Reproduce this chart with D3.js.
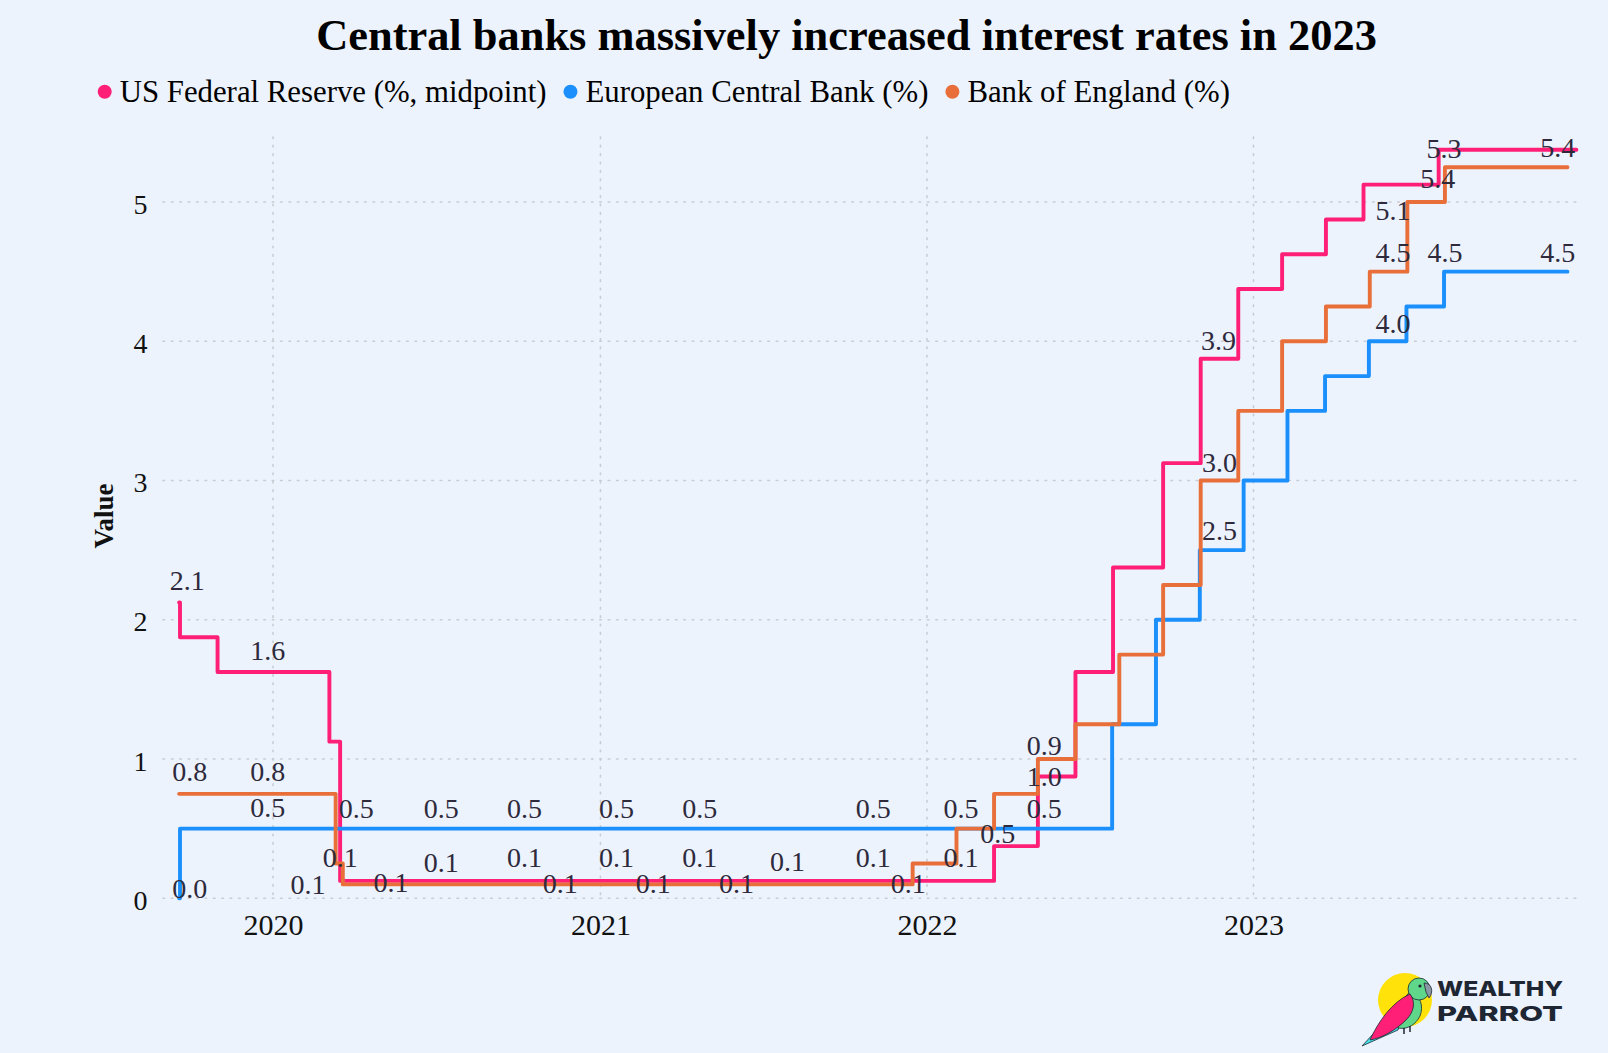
<!DOCTYPE html>
<html>
<head>
<meta charset="utf-8">
<script src="https://cdn.jsdelivr.net/npm/d3@7"></script>
<style>
  html, body { margin: 0; padding: 0; background: #ecf3fd; }
  svg { display: block; }
</style>
</head>
<body>
<svg id="chart" width="1608" height="1053"></svg>
<script>
// ---------------- DATA ----------------
const chartTitle = "Central banks massively increased interest rates in 2023";
const yAxisTitle = "Value";
const seriesNames = ["US Federal Reserve (%, midpoint)", "European Central Bank (%)", "Bank of England (%)"];
const seriesColors = ["#ff1f76", "#1b8ffb", "#e96f3a"];

const fedDates = ["2019-09-18","2019-09-19","2019-10-31","2020-03-04","2020-03-16","2022-03-17","2022-05-05","2022-06-16","2022-07-28","2022-09-22","2022-11-03","2022-12-15","2023-02-02","2023-03-23","2023-05-04","2023-07-27","2023-12-28"];
const fedValues = [2.125, 1.875, 1.625, 1.125, 0.125, 0.375, 0.875, 1.625, 2.375, 3.125, 3.875, 4.375, 4.625, 4.875, 5.125, 5.375, 5.375];

const ecbDates = ["2019-09-18","2019-09-19","2022-07-27","2022-09-14","2022-11-02","2022-12-21","2023-02-08","2023-03-22","2023-05-10","2023-06-21","2023-08-02","2023-12-18"];
const ecbValues = [0.0, 0.5, 1.25, 2.0, 2.5, 3.0, 3.5, 3.75, 4.0, 4.25, 4.5, 4.5];

const boeDates = ["2019-09-18","2020-03-11","2020-03-19","2021-12-16","2022-02-03","2022-03-17","2022-05-05","2022-06-16","2022-08-04","2022-09-22","2022-11-03","2022-12-15","2023-02-02","2023-03-23","2023-05-11","2023-06-22","2023-08-03","2023-12-18"];
const boeValues = [0.75, 0.25, 0.1, 0.25, 0.5, 0.75, 1.0, 1.25, 1.75, 2.25, 3.0, 3.5, 4.0, 4.25, 4.5, 5.0, 5.25, 5.25];

const yTicks = [0, 1, 2, 3, 4, 5];
const xTickDates = ["2020-01-01", "2021-01-01", "2022-01-01", "2023-01-01"];
const xTickLabels = ["2020", "2021", "2022", "2023"];

// point value labels: anchor date, anchor level (value units), value shown
const labelDates = [
  "2019-09-27","2019-12-26","2019-09-30","2019-12-26","2019-12-26","2019-09-30",
  "2020-04-03","2020-07-07","2020-10-08","2021-01-19","2021-04-22","2021-11-02","2022-02-08","2022-05-12",
  "2020-03-16","2020-07-07","2020-10-08","2021-01-19","2021-04-22","2021-07-29","2021-11-02","2022-02-08",
  "2020-02-09","2020-05-12","2020-11-17","2021-03-01","2021-06-02","2021-12-11",
  "2022-03-21","2022-05-12","2022-05-12",
  "2022-11-23","2022-11-24","2022-11-24",
  "2023-08-02","2023-12-07","2023-07-26","2023-06-06","2023-06-06","2023-08-03","2023-12-07","2023-06-06"
];
const labelLevels = [
  2.215, 1.712, 0.842, 0.842, 0.584, 0.0,
  0.576, 0.576, 0.576, 0.576, 0.576, 0.576, 0.576, 0.576,
  0.225, 0.191, 0.225, 0.225, 0.225, 0.198, 0.225, 0.225,
  0.031, 0.047, 0.038, 0.038, 0.038, 0.038,
  0.395, 0.803, 1.029,
  3.938, 3.064, 2.573,
  5.316, 5.321, 5.099, 4.871, 4.572, 4.572, 4.572, 4.057
];
const labelValues = [
  2.125, 1.625, 0.75, 0.75, 0.5, 0.0,
  0.5, 0.5, 0.5, 0.5, 0.5, 0.5, 0.5, 0.5,
  0.125, 0.125, 0.125, 0.125, 0.125, 0.125, 0.125, 0.125,
  0.1, 0.1, 0.1, 0.1, 0.1, 0.1,
  0.5, 1.0, 0.875,
  3.875, 3.0, 2.5,
  5.25, 5.375, 5.375, 5.125, 4.5, 4.5, 4.5, 4.0
];

// ---------------- LAYOUT ----------------
const W = 1608, H = 1053;
const plot = { left: 163, right: 1580, top: 137, bottom: 898.3 };
const serif = "'Liberation Serif', 'Times New Roman', serif";
const parse = d3.utcParse("%Y-%m-%d");
const fmt = d3.format(".1f");

const svg = d3.select("#chart");
svg.append("rect").attr("width", W).attr("height", H).attr("fill", "#ecf3fd");

const x = d3.scaleUtc()
  .domain([parse("2019-08-31"), parse("2024-01-01")])
  .range([plot.left, plot.right]);
const y = d3.scaleLinear()
  .domain([0, 5.467])
  .range([plot.bottom, plot.top]);

function fitWidth(sel, target) {
  const w = sel.node().getComputedTextLength();
  const fs = parseFloat(sel.attr("font-size"));
  sel.attr("font-size", fs * target / w);
}

// Title
const t = svg.append("text")
  .attr("x", 846.5).attr("y", 50)
  .attr("text-anchor", "middle")
  .attr("font-family", serif)
  .attr("font-weight", "bold")
  .attr("font-size", 36)
  .attr("fill", "#000")
  .text(chartTitle);
fitWidth(t, 1061);

// Legend
const legend = svg.append("g");
let lx = 104.7;
let legendFont = 30;
seriesNames.forEach((name, i) => {
  legend.append("circle").attr("cx", lx).attr("cy", 91.7).attr("r", 7).attr("fill", seriesColors[i]);
  const tx = legend.append("text")
    .attr("x", lx + 15).attr("y", 101.5)
    .attr("font-family", serif)
    .attr("font-size", legendFont)
    .attr("fill", "#000")
    .text(name);
  if (i === 0) { fitWidth(tx, 427); legendFont = parseFloat(tx.attr("font-size")); }
  const w = tx.node().getComputedTextLength();
  lx = lx + 15 + w + 24;
});

// Gridlines
const grid = svg.append("g").attr("stroke", "#c9ccd2").attr("stroke-width", 1.6)
  .attr("stroke-dasharray", "1.6,6.8").attr("stroke-linecap", "round");
grid.selectAll("line.h").data(yTicks).join("line")
  .attr("x1", plot.left).attr("x2", plot.right)
  .attr("y1", d => y(d)).attr("y2", d => y(d));
grid.selectAll("line.v").data(xTickDates).join("line")
  .attr("x1", d => x(parse(d))).attr("x2", d => x(parse(d)))
  .attr("y1", plot.top).attr("y2", plot.bottom);

// Axes (d3 axes, domain/tick lines removed for the plain look)
const yAxis = svg.append("g")
  .attr("transform", `translate(${plot.left},0)`)
  .call(d3.axisLeft(y).tickValues(yTicks).tickFormat(d3.format("d")).tickSize(0).tickPadding(0));
yAxis.select(".domain").remove();
yAxis.selectAll("text")
  .attr("x", 140.5 - plot.left)
  .attr("dy", "0.4em")
  .attr("text-anchor", "middle")
  .attr("font-family", serif)
  .attr("font-size", 28)
  .attr("fill", "#111");

const xAxis = svg.append("g")
  .attr("transform", `translate(0,${plot.bottom})`)
  .call(d3.axisBottom(x).tickValues(xTickDates.map(parse))
    .tickFormat((d, i) => xTickLabels[i]).tickSize(0).tickPadding(0));
xAxis.select(".domain").remove();
xAxis.selectAll("text")
  .attr("y", 37)
  .attr("dy", 0)
  .attr("font-family", serif)
  .attr("font-size", 30)
  .attr("fill", "#111");

// Y axis title
svg.append("text")
  .attr("transform", "translate(113,516) rotate(-90)")
  .attr("text-anchor", "middle")
  .attr("font-family", serif)
  .attr("font-weight", "bold")
  .attr("font-size", 27)
  .attr("fill", "#111")
  .text(yAxisTitle);

// Lines
const series = [
  { dates: fedDates, values: fedValues },
  { dates: ecbDates, values: ecbValues },
  { dates: boeDates, values: boeValues }
].map((s, i) => ({
  color: seriesColors[i],
  points: s.dates.map((d, j) => ({ date: parse(d), value: s.values[j] }))
}));

const line = d3.line()
  .x(d => x(d.date))
  .y(d => y(d.value))
  .curve(d3.curveStepAfter);

svg.append("g").selectAll("path").data(series).join("path")
  .attr("d", d => line(d.points))
  .attr("fill", "none")
  .attr("stroke", d => d.color)
  .attr("stroke-width", 3.9)
  .attr("stroke-linejoin", "round")
  .attr("stroke-linecap", "round");

// Value labels
const labels = labelDates.map((d, i) => ({ date: parse(d), level: labelLevels[i], value: labelValues[i] }));
svg.append("g").selectAll("text").data(labels).join("text")
  .attr("x", d => x(d.date))
  .attr("y", d => y(d.level))
  .attr("text-anchor", "middle")
  .attr("font-family", serif)
  .attr("font-size", 28)
  .attr("fill", "#2e2a3c")
  .text(d => fmt(d.value));

// Logo (Wealthy Parrot)
const logo = svg.append("g");
logo.append("circle").attr("cx", 1405).attr("cy", 1000).attr("r", 27).attr("fill", "#ffe20a");
logo.append("path").attr("d", "M1362,1046 L1386,1020 L1402,1016 L1398,1030 Z").attr("fill", "#43e0e8").attr("stroke", "#1d2733").attr("stroke-width", 0.8);
logo.append("path").attr("d", "M1398,1028 C1396,1012 1402,998 1412,990 C1420,996 1424,1006 1420,1016 C1416,1024 1408,1030 1398,1028 Z").attr("fill", "#5fd68a").attr("stroke", "#1d2733").attr("stroke-width", 0.8);
logo.append("circle").attr("cx", 1419).attr("cy", 989).attr("r", 11).attr("fill", "#5fd68a").attr("stroke", "#1d2733").attr("stroke-width", 0.8);
logo.append("path").attr("d", "M1424,983 C1432,983 1434,992 1429,998 L1426,992 Z").attr("fill", "#8a96a3").attr("stroke", "#1d2733").attr("stroke-width", 0.8);
logo.append("circle").attr("cx", 1420).attr("cy", 986).attr("r", 1.6).attr("fill", "#1d2733");
logo.append("path").attr("d", "M1370,1040 C1378,1022 1392,1002 1410,994 C1416,1002 1414,1012 1406,1020 C1396,1030 1382,1038 1370,1040 Z").attr("fill", "#ff1f76").attr("stroke", "#1d2733").attr("stroke-width", 0.8);
logo.append("path").attr("d", "M1404,1028 L1404,1034 M1410,1026 L1410,1032").attr("stroke", "#1d2733").attr("stroke-width", 1.5);

logo.append("text").attr("x", 1437).attr("y", 996)
  .attr("font-family", "Inter, 'Open Sans', sans-serif").attr("font-weight", 800)
  .attr("font-size", 20.5).attr("fill", "#1e2633")
  .attr("textLength", 126).attr("lengthAdjust", "spacingAndGlyphs")
  .text("WEALTHY");
logo.append("text").attr("x", 1437).attr("y", 1021)
  .attr("font-family", "Inter, 'Open Sans', sans-serif").attr("font-weight", 800)
  .attr("font-size", 20.5).attr("fill", "#1e2633")
  .attr("textLength", 126).attr("lengthAdjust", "spacingAndGlyphs")
  .text("PARROT");
</script>
</body>
</html>
